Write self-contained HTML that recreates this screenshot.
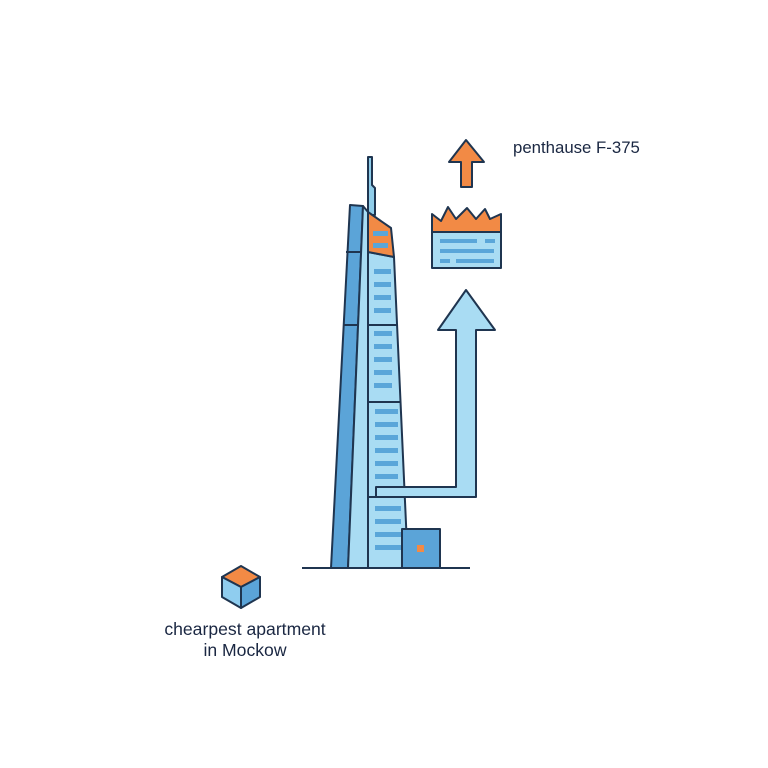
<!DOCTYPE html>
<html><head><style>
body{margin:0;background:#fff}
svg{display:block}
text{font-family:"Liberation Sans","DejaVu Sans",sans-serif;fill:#1a2742}
</style></head><body>
<svg width="768" height="768" viewBox="0 0 768 768" xmlns="http://www.w3.org/2000/svg">
<g stroke="#1f3550" stroke-width="2" stroke-linejoin="round">
<polygon points="368,157 372,157 372,185 375,188 375,215 368,215" fill="#8fcdea"/>
<polygon points="350,205 363,206 348,568 331,568" fill="#5ba4d8"/>
<line x1="346" y1="252" x2="362" y2="252"/>
<line x1="343" y1="325" x2="360" y2="325"/>
<polygon points="363,206 368,212 368,568 348,568" fill="#a9dcf3"/>
<polygon points="368,252 394,257 408,568 368,568" fill="#a9dcf3"/>
<polygon points="368,212 391,228 394,257 368,252" fill="#f28a45"/>
<line x1="368" y1="325" x2="397" y2="325"/>
<line x1="368" y1="402" x2="401" y2="402"/>
<line x1="368" y1="497" x2="405" y2="497"/>
</g>
<g fill="#5aa6d9">
<rect x="373" y="231" width="15" height="5"/><rect x="373" y="243" width="15" height="5"/>
<rect x="374" y="269" width="17" height="5"/><rect x="374" y="282" width="17" height="5"/><rect x="374" y="295" width="17" height="5"/><rect x="374" y="308" width="17" height="5"/>
<rect x="374" y="331" width="18" height="5"/><rect x="374" y="344" width="18" height="5"/><rect x="374" y="357" width="18" height="5"/><rect x="374" y="370" width="18" height="5"/><rect x="374" y="383" width="18" height="5"/>
<rect x="375" y="409" width="23" height="5"/><rect x="375" y="422" width="23" height="5"/><rect x="375" y="435" width="23" height="5"/><rect x="375" y="448" width="23" height="5"/><rect x="375" y="461" width="23" height="5"/><rect x="375" y="474" width="23" height="5"/>
<rect x="375" y="506" width="26" height="5"/><rect x="375" y="519" width="26" height="5"/><rect x="375" y="532" width="26" height="5"/><rect x="375" y="545" width="26" height="5"/>
</g>
<g stroke="#1f3550" stroke-width="2" stroke-linejoin="round">
<polygon points="376,487 456,487 456,330 438,330 466,290 495,330 476,330 476,497 376,497" fill="#a9dcf3"/>
<rect x="402" y="529" width="38" height="39" fill="#5ba4d8"/>
<line x1="302" y1="568" x2="470" y2="568"/>
<rect x="432" y="232" width="69" height="36" fill="#a9dcf3"/>
<polygon points="432,232 432,214 441,221 448,207 456,219 467,208 476,219 485,209 490,219 501,214 501,232" fill="#f28a45"/>
<polygon points="466,140 484,162 472,162 472,187 461,187 461,162 449,162" fill="#f28a45"/>
<polygon points="241,566 260,577 241,587 222,577" fill="#f28a45"/>
<polygon points="222,577 241,587 241,608 222,597" fill="#8fcdef"/>
<polygon points="241,587 260,577 260,597 241,608" fill="#5ba4d8"/>
</g>
<rect x="417" y="545" width="7" height="7" fill="#f28a45"/>
<g fill="#5aa6d9">
<rect x="440" y="239" width="37" height="4"/><rect x="485" y="239" width="10" height="4"/>
<rect x="440" y="249" width="54" height="4"/>
<rect x="440" y="259" width="10" height="4"/><rect x="456" y="259" width="38" height="4"/>
</g>
<text x="513" y="153" font-size="16.8">penthause F-375</text>
<text x="245" y="635" font-size="17.6" text-anchor="middle">chearpest apartment</text>
<text x="245" y="656" font-size="17.6" text-anchor="middle">in Mockow</text>
</svg>
</body></html>
